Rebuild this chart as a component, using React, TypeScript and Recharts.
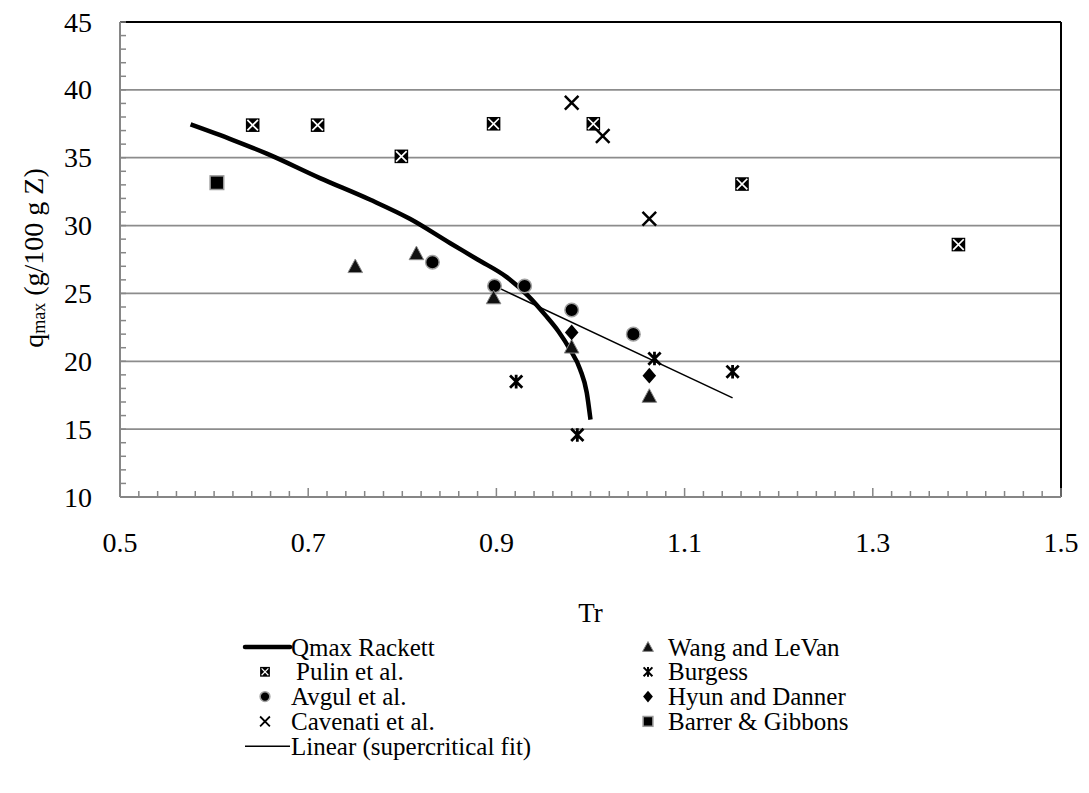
import React from 'react';
import { ComposedChart, Line, Scatter, XAxis, YAxis, ReferenceLine } from 'recharts';

const FONT = 'Liberation Serif, Tinos, DejaVu Serif, serif';
const AXIS_GRAY = '#868686';

// axis ticks
const xLabelTicks = [0.5, 0.7, 0.9, 1.1, 1.3, 1.5];
const yLabelTicks = [10, 15, 20, 25, 30, 35, 40, 45];
const gridValues = [15, 20, 25, 30, 35, 40];
const xMinorTicks = Array.from({ length: 51 }, (_, i) => +(0.5 + i * 0.02).toFixed(2));
const yMinorTicks = Array.from({ length: 36 }, (_, i) => 10 + i);

// Qmax Rackett curve
const rackett = [
  { x: 0.575, y: 37.45 },
  { x: 0.62, y: 36.3 },
  { x: 0.656, y: 35.3 },
  { x: 0.7125, y: 33.5 },
  { x: 0.766, y: 31.9 },
  { x: 0.808, y: 30.5 },
  { x: 0.851, y: 28.7 },
  { x: 0.88, y: 27.5 },
  { x: 0.911, y: 26.2 },
  { x: 0.934, y: 24.8 },
  { x: 0.952, y: 23.4 },
  { x: 0.966, y: 22.2 },
  { x: 0.978, y: 20.9 },
  { x: 0.989, y: 19.4 },
  { x: 0.996, y: 17.7 },
  { x: 1.0, y: 15.7 },
];

const linearFit = [
  { x: 0.898, y: 25.55 },
  { x: 1.151, y: 17.3 },
];

const pulin = [
  { x: 0.641, y: 37.4 },
  { x: 0.71, y: 37.4 },
  { x: 0.799, y: 35.1 },
  { x: 0.897, y: 37.5 },
  { x: 1.003, y: 37.5 },
  { x: 1.161, y: 33.06 },
  { x: 1.391, y: 28.6 },
];

const avgul = [
  { x: 0.832, y: 27.3 },
  { x: 0.898, y: 25.55 },
  { x: 0.93, y: 25.55 },
  { x: 0.98, y: 23.78 },
  { x: 1.0455, y: 22.0 },
];

const cavenati = [
  { x: 0.98, y: 39.05 },
  { x: 1.013, y: 36.6 },
  { x: 1.0625, y: 30.5 },
];

const wang = [
  { x: 0.75, y: 27.0 },
  { x: 0.815, y: 27.95 },
  { x: 0.897, y: 24.7 },
  { x: 0.98, y: 21.07 },
  { x: 1.0625, y: 17.44 },
];

const burgess = [
  { x: 0.921, y: 18.5 },
  { x: 0.986, y: 14.57 },
  { x: 1.068, y: 20.2 },
  { x: 1.151, y: 19.23 },
];

const hyun = [
  { x: 0.98, y: 22.13 },
  { x: 1.0625, y: 18.94 },
];

const barrer = [{ x: 0.603, y: 33.16 }];

type Kind = 'pulin' | 'avgul' | 'cavenati' | 'wang' | 'burgess' | 'hyun' | 'barrer';

function Marker({ kind, cx, cy, s = 1 }: { kind: Kind; cx: number; cy: number; s?: number }) {
  const h = 6.8 * s;
  switch (kind) {
    case 'pulin':
      return (
        <g>
          <rect x={cx - h} y={cy - h} width={2 * h} height={2 * h} fill="#000" />
          <path
            d={`M${cx - h + 1.5},${cy - h + 1.5}L${cx + h - 1.5},${cy + h - 1.5}M${cx + h - 1.5},${cy - h + 1.5}L${cx - h + 1.5},${cy + h - 1.5}`}
            stroke="#fff"
            strokeWidth={1.7 * s}
          />
        </g>
      );
    case 'avgul':
      return <circle cx={cx} cy={cy} r={h} fill="#000" stroke="#a0a0a0" strokeWidth={1.5} />;
    case 'cavenati':
      return (
        <path
          d={`M${cx - h},${cy - h}L${cx + h},${cy + h}M${cx + h},${cy - h}L${cx - h},${cy + h}`}
          stroke="#000"
          strokeWidth={2.5 * s}
        />
      );
    case 'wang':
      return (
        <path
          d={`M${cx},${cy - h - 0.5}L${cx + h + 0.5},${cy + h - 0.5}L${cx - h - 0.5},${cy + h - 0.5}Z`}
          fill="#111"
          stroke="#8a8a8a"
          strokeWidth={1}
        />
      );
    case 'burgess': {
      const d = h * 0.9;
      return (
        <path
          d={`M${cx - d},${cy - d}L${cx + d},${cy + d}M${cx + d},${cy - d}L${cx - d},${cy + d}M${cx},${cy - h}L${cx},${cy + h}`}
          stroke="#000"
          strokeWidth={2.8 * s}
        />
      );
    }
    case 'hyun':
      return <path d={`M${cx},${cy - h - 1}L${cx + h},${cy}L${cx},${cy + h + 1}L${cx - h},${cy}Z`} fill="#000" />;
    case 'barrer':
      return <rect x={cx - h} y={cy - h} width={2 * h} height={2 * h} fill="#000" stroke="#9a9a9a" strokeWidth={1.5} />;
  }
  return null;
}

const shapeFor = (kind: Kind) => (p: any) => <Marker kind={kind} cx={p.cx} cy={p.cy} />;

const XTick = (p: any) => {
  const v = Math.round(p.payload.value * 100) / 100;
  const isLabel = xLabelTicks.some((t) => Math.abs(t - v) < 1e-6);
  const len = isLabel ? 9 : 6;
  return (
    <g>
      <line x1={p.x} x2={p.x} y1={p.y} y2={p.y - len} stroke={AXIS_GRAY} strokeWidth={1.5} />
      {isLabel && (
        <text x={p.x} y={p.y + 45} textAnchor="middle" dominantBaseline="central" fontSize={28} fontFamily={FONT} fill="#000">
          {v.toFixed(1)}
        </text>
      )}
    </g>
  );
};

const YTick = (p: any) => {
  const v = Math.round(p.payload.value);
  const isLabel = yLabelTicks.includes(v);
  return (
    <g>
      <line x1={p.x} x2={p.x + 6} y1={p.y} y2={p.y} stroke={AXIS_GRAY} strokeWidth={1.5} />
      {isLabel && (
        <text x={p.x - 28} y={p.y} textAnchor="end" dominantBaseline="central" fontSize={28} fontFamily={FONT} fill="#000">
          {v}
        </text>
      )}
    </g>
  );
};

const leftLegend: { label: string; kind: Kind | 'thick' | 'thin'; dx?: number }[] = [
  { label: 'Qmax Rackett', kind: 'thick' },
  { label: ' Pulin et al.', kind: 'pulin', dx: 5 },
  { label: 'Avgul et al.', kind: 'avgul' },
  { label: 'Cavenati et al.', kind: 'cavenati' },
  { label: 'Linear (supercritical fit)', kind: 'thin' },
];
const rightLegend: { label: string; kind: Kind }[] = [
  { label: 'Wang and LeVan', kind: 'wang' },
  { label: 'Burgess', kind: 'burgess' },
  { label: 'Hyun and Danner', kind: 'hyun' },
  { label: 'Barrer & Gibbons', kind: 'barrer' },
];

function ChartLegend() {
  const rowY = (i: number) => 647 + i * 24.8;
  return (
    <svg width={1089} height={793} style={{ position: 'absolute', left: 0, top: 0, pointerEvents: 'none' }}>
      {leftLegend.map((e, i) => (
        <g key={e.label}>
          {e.kind === 'thick' && <line x1={245} x2={290} y1={rowY(i)} y2={rowY(i)} stroke="#000" strokeWidth={4.5} strokeLinecap="round" />}
          {e.kind === 'thin' && <line x1={245} x2={290} y1={rowY(i)} y2={rowY(i)} stroke="#000" strokeWidth={1.5} />}
          {e.kind !== 'thick' && e.kind !== 'thin' && <Marker kind={e.kind as Kind} cx={265} cy={rowY(i)} s={0.72} />}
          <text x={291 + (e.dx || 0)} y={rowY(i)} dominantBaseline="central" fontSize={25} fontFamily={FONT} fill="#000">
            {e.label}
          </text>
        </g>
      ))}
      {rightLegend.map((e, i) => (
        <g key={e.label}>
          <Marker kind={e.kind} cx={648} cy={rowY(i)} s={0.72} />
          <text x={668} y={rowY(i)} dominantBaseline="central" fontSize={25} fontFamily={FONT} fill="#000">
            {e.label}
          </text>
        </g>
      ))}
    </svg>
  );
}

export default function App() {
  return (
    <div style={{ position: 'absolute', left: 0, top: 0, width: 1089, height: 793, background: '#fff', fontFamily: FONT }}>
      <ComposedChart width={1089} height={793} margin={{ top: 22, right: 28, left: 60, bottom: 236 }}>
        <XAxis
          type="number"
          dataKey="x"
          domain={[0.5, 1.5]}
          ticks={xMinorTicks}
          interval={0}
          tickSize={0}
          tickMargin={0}
          tickLine={false}
          axisLine={{ stroke: AXIS_GRAY, strokeWidth: 2 }}
          tick={(p: any) => <XTick {...p} />}
          height={60}
          label={{
            content: (lp: any) => {
              const vb = lp.viewBox;
              return (
                <text x={vb.x + vb.width / 2} y={vb.y + 116} textAnchor="middle" dominantBaseline="central" fontSize={27} fontFamily={FONT} fill="#000">
                  Tr
                </text>
              );
            },
          }}
        />
        <YAxis
          type="number"
          dataKey="y"
          domain={[10, 45]}
          ticks={yMinorTicks}
          interval={0}
          tickSize={0}
          tickMargin={0}
          tickLine={false}
          axisLine={{ stroke: AXIS_GRAY, strokeWidth: 2 }}
          tick={(p: any) => <YTick {...p} />}
          width={60}
          label={{
            content: () => {
              const cx = 33;
              const cy = 258;
              return (
                <text x={cx} y={cy} transform={`rotate(-90, ${cx}, ${cy})`} textAnchor="middle" dominantBaseline="central" fontSize={28} fontFamily={FONT} fill="#000">
                  q<tspan fontSize={18} dy={6}>max</tspan>
                  <tspan dy={-6}> (g/100 g Z)</tspan>
                </text>
              );
            },
          }}
        />
        {gridValues.map((v) => (
          <ReferenceLine key={v} y={v} stroke="#8c8c8c" strokeWidth={1.8} />
        ))}
        <ReferenceLine y={45} stroke="#000" strokeWidth={2} />
        <ReferenceLine x={1.5} stroke="#000" strokeWidth={2} />
        <Line data={rackett} dataKey="y" type="monotone" stroke="#000" strokeWidth={4.5} dot={false} isAnimationActive={false} />
        <Line data={linearFit} dataKey="y" type="linear" stroke="#000" strokeWidth={1.5} dot={false} isAnimationActive={false} />
        <Scatter data={pulin} dataKey="y" shape={shapeFor('pulin')} isAnimationActive={false} />
        <Scatter data={avgul} dataKey="y" shape={shapeFor('avgul')} isAnimationActive={false} />
        <Scatter data={cavenati} dataKey="y" shape={shapeFor('cavenati')} isAnimationActive={false} />
        <Scatter data={wang} dataKey="y" shape={shapeFor('wang')} isAnimationActive={false} />
        <Scatter data={burgess} dataKey="y" shape={shapeFor('burgess')} isAnimationActive={false} />
        <Scatter data={hyun} dataKey="y" shape={shapeFor('hyun')} isAnimationActive={false} />
        <Scatter data={barrer} dataKey="y" shape={shapeFor('barrer')} isAnimationActive={false} />
      </ComposedChart>
      <ChartLegend />
    </div>
  );
}
